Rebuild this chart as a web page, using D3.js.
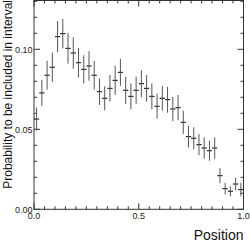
<!DOCTYPE html>
<html>
<head>
  <meta charset="utf-8">
  <style>
    body { margin: 0; background: #fff; }
    svg { display: block; font-family: "Liberation Sans", Arial, sans-serif; }
    .lbl { font-size: 9px; fill: #222; }
    .title { font-size: 14px; fill: #111; }
  </style>
</head>
<body>
  <div class="chart"></div>
  <script src="https://cdnjs.cloudflare.com/ajax/libs/d3/7.8.5/d3.min.js"></script>
  <script>
    // 40 bins over [0, 1]
    var binEdges = [0, 1];
    var nBins = 40;
    var values = [0.0564, 0.0727, 0.0838, 0.0888, 0.1079, 0.1098, 0.1006, 0.0977, 0.0916, 0.0875,
                  0.0896, 0.0838, 0.0735, 0.0694, 0.0756, 0.0806, 0.0856, 0.0744, 0.0706, 0.0744,
                  0.0785, 0.0756, 0.0706, 0.0644, 0.0694, 0.0685, 0.0627, 0.0635, 0.0544, 0.0454,
                  0.0444, 0.0404, 0.0383, 0.0366, 0.0383, 0.0210, 0.0129, 0.0113, 0.0158, 0.0123];
    var errors = [0.0072, 0.0081, 0.0090, 0.0092, 0.0097, 0.0092, 0.0096, 0.0098, 0.0092, 0.0088,
                  0.0092, 0.0089, 0.0083, 0.0075, 0.0083, 0.0090, 0.0084, 0.0085, 0.0081, 0.0085,
                  0.0085, 0.0083, 0.0081, 0.0078, 0.0077, 0.0081, 0.0076, 0.0079, 0.0073, 0.0067,
                  0.0069, 0.0066, 0.0067, 0.0063, 0.0067, 0.0047, 0.0036, 0.0031, 0.0040, 0.0042];
    var xLabels = [0, 0.5, 1.0];
    var yLabels = [0, 0.05, 0.10];
    var yMax = 0.13;

    var width = 250, height = 241;
    var x0 = 34, x1 = 243.5, yTop = 1.3, yBot = 209.3;

    var svg = d3.select(".chart").append("svg")
      .attr("width", width)
      .attr("height", height);

    var x = d3.scaleLinear().domain(binEdges).range([x0, x1]);
    var y = d3.scaleLinear().domain([0, yMax]).range([yBot, yTop]);

    var bw = (binEdges[1] - binEdges[0]) / nBins;
    var bins = values.map(function (v, i) {
      return { lo: binEdges[0] + i * bw, hi: binEdges[0] + (i + 1) * bw, v: v, e: errors[i] };
    });

    // frame
    svg.append("rect")
      .attr("x", x0).attr("y", yTop - 0.8)
      .attr("width", x1 - x0).attr("height", yBot - yTop + 0.8)
      .attr("fill", "none").attr("stroke", "#333").attr("stroke-width", 1);

    // x ticks (bottom pointing up, top pointing down)
    var xTicks = d3.range(0, 21).map(function (i) { return i * 0.05; });
    xTicks.forEach(function (t) {
      var major = Math.abs(t * 2 - Math.round(t * 2)) < 1e-9;
      var len = major ? 6 : 3;
      svg.append("line").attr("x1", x(t)).attr("x2", x(t))
        .attr("y1", yBot).attr("y2", yBot - len).attr("stroke", "#333");
      svg.append("line").attr("x1", x(t)).attr("x2", x(t))
        .attr("y1", yTop - 0.8).attr("y2", yTop - 0.8 + len).attr("stroke", "#333");
    });

    // y ticks (left pointing right, right pointing left)
    var yTicks = d3.range(0, 14).map(function (i) { return i * 0.01; });
    yTicks.forEach(function (t) {
      var major = Math.abs(t * 20 - Math.round(t * 20)) < 1e-9;
      var len = major ? 6 : 3;
      svg.append("line").attr("x1", x0).attr("x2", x0 + len)
        .attr("y1", y(t)).attr("y2", y(t)).attr("stroke", "#333");
      svg.append("line").attr("x1", x1).attr("x2", x1 - len)
        .attr("y1", y(t)).attr("y2", y(t)).attr("stroke", "#333");
    });

    // tick labels
    svg.selectAll(".xl").data(xLabels).enter().append("text")
      .attr("class", "lbl")
      .attr("x", function (d) { return x(d); })
      .attr("y", yBot + 10)
      .attr("text-anchor", "middle")
      .text(function (d) { return d3.format(".1f")(d); });

    svg.selectAll(".yl").data(yLabels).enter().append("text")
      .attr("class", "lbl")
      .attr("x", x0 - 1.5)
      .attr("y", function (d) { return y(d) + 3.2; })
      .attr("text-anchor", "end")
      .text(function (d) { return d3.format(".2f")(d); });

    // axis titles
    svg.append("text").attr("class", "title")
      .attr("x", x1).attr("y", 239.5)
      .attr("text-anchor", "end")
      .text("Position");

    svg.append("text").attr("class", "title")
      .attr("transform", "translate(11.5,0) rotate(-90)")
      .attr("text-anchor", "end")
      .style("font-size", "12px")
      .text("Probability to be included in interval");

    // error bars
    var g = svg.append("g").attr("stroke", "#000").attr("stroke-width", 1);
    g.selectAll(".h").data(bins).enter().append("line")
      .attr("x1", function (d) { return x(d.lo); })
      .attr("x2", function (d) { return x(d.hi); })
      .attr("y1", function (d) { return y(d.v); })
      .attr("y2", function (d) { return y(d.v); });
    g.selectAll(".v").data(bins).enter().append("line")
      .attr("x1", function (d) { return x((d.lo + d.hi) / 2); })
      .attr("x2", function (d) { return x((d.lo + d.hi) / 2); })
      .attr("y1", function (d) { return y(d.v - d.e); })
      .attr("y2", function (d) { return y(d.v + d.e); })
      .attr("stroke", "#555");
  </script>
</body>
</html>
